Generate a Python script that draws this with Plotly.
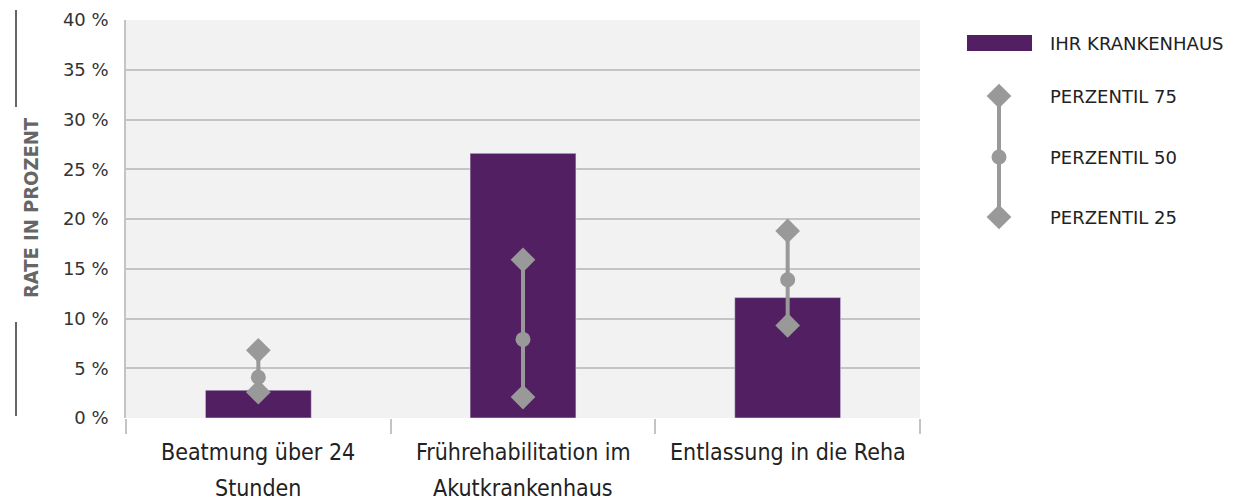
import plotly.graph_objects as go

categories = ["Beatmung über 24\nStunden", "Frührehabilitation im\nAkutkrankenhaus", "Entlassung in die Reha"]
hospital = [2.8, 26.6, 12.1]
p25 = [2.6, 2.1, 9.3]
p50 = [4.1, 7.9, 13.9]
p75 = [6.8, 15.9, 18.8]
y_ticks = [0, 5, 10, 15, 20, 25, 30, 35, 40]
legend_labels = ["IHR KRANKENHAUS", "PERZENTIL 75", "PERZENTIL 50", "PERZENTIL 25"]

PURPLE = "#521f63"
GRAY = "#999999"
GRID = "#c4c4c4"

W, H = 1237, 499
ML, MR, MT, MB = 126, 0, 20, 81
PW = W - ML - MR
PH = H - MT - MB
x_dom_end = (920 - ML) / PW


def px(xpix):
    return (xpix - ML) / PW


def py(ypix):
    return (H - MB - ypix) / PH


xs = list(range(len(categories)))
pct_marker = dict(color=GRAY, symbol=["diamond", "circle", "diamond"], size=[19, 15, 19],
                  opacity=1, line=dict(width=0))

fig = go.Figure()
fig.add_shape(type="rect", xref="x", yref="y", x0=-0.5, x1=2.5, y0=0, y1=40,
              fillcolor="#f2f2f2", line_width=0, layer="below")
fig.add_trace(go.Bar(x=xs, y=hospital, marker_color=PURPLE, width=0.4,
                     showlegend=False, hoverinfo="skip"))
for i in xs:
    fig.add_trace(go.Scatter(
        x=[i, i, i], y=[p25[i], p50[i], p75[i]], mode="lines+markers",
        line=dict(color=GRAY, width=4), marker=pct_marker,
        showlegend=False, hoverinfo="skip"))

# legend drawn on an overlay axis whose data units equal pixels
fig.add_trace(go.Scatter(x=[999, 999, 999], y=[96, 157, 217], mode="lines+markers",
                         line=dict(color=GRAY, width=4), marker=pct_marker,
                         xaxis="x2", yaxis="y2", showlegend=False, hoverinfo="skip"))
fig.add_shape(type="rect", xref="x2", yref="y2", x0=967, x1=1032, y0=35, y1=51,
              fillcolor=PURPLE, line_width=0)
for lab, yy in zip(legend_labels, [43, 96, 157, 217]):
    fig.add_annotation(x=1048, y=yy, xref="x2", yref="y2", text=lab, showarrow=False,
                       xanchor="left", yanchor="middle",
                       font=dict(family="DejaVu Sans", size=18, color="#222222"))

# x category labels (two lines, wide spacing)
for i, cat in enumerate(categories):
    for j, line in enumerate(cat.split("\n")):
        fig.add_annotation(x=i, y=0, xref="x", yref="paper", text=line, showarrow=False,
                           xanchor="center", yanchor="middle", yshift=-34 - 36 * j,
                           font=dict(family="DejaVu Sans Condensed", size=23, color="#222222"))

# y-axis title with decorative lines
fig.add_annotation(x=px(17), y=py(208), xref="paper", yref="paper",
                   text="<b>RATE IN PROZENT</b>", showarrow=False, textangle=-90,
                   font=dict(family="DejaVu Sans Condensed", size=20, color="#666666"))
fig.add_shape(type="line", xref="paper", yref="paper", x0=px(16), x1=px(16),
              y0=py(10), y1=py(107), line=dict(color="#666666", width=2))
fig.add_shape(type="line", xref="paper", yref="paper", x0=px(16), x1=px(16),
              y0=py(322), y1=py(416), line=dict(color="#666666", width=2))

fig.update_layout(
    width=W, height=H,
    margin=dict(l=ML, r=MR, t=MT, b=MB, autoexpand=False),
    paper_bgcolor="white", plot_bgcolor="rgba(0,0,0,0)",
    xaxis=dict(domain=[0, x_dom_end], range=[-0.5, 2.5], tickvals=[-0.5, 0.5, 1.5, 2.5],
               showticklabels=False, ticks="outside", ticklen=15, tickcolor=GRID, tickwidth=1.5,
               showgrid=False, zeroline=False, showline=False, automargin=False),
    yaxis=dict(range=[0, 40], tickvals=y_ticks, ticktext=[f"{v} %" for v in y_ticks],
               showgrid=True, gridcolor=GRID, gridwidth=1.5, zeroline=False,
               showline=True, linecolor=GRID, linewidth=1.5, automargin=False,
               ticks="outside", ticklen=12, tickcolor="rgba(0,0,0,0)",
               tickfont=dict(family="DejaVu Sans", size=18, color="#333333")),
    xaxis2=dict(domain=[0, 1], range=[ML, W], visible=False, fixedrange=True, automargin=False),
    yaxis2=dict(domain=[0, 1], range=[H - MB, MT], visible=False, anchor="x2",
                fixedrange=True, automargin=False),
)
fig.write_html("out.html", config={"displayModeBar": False},
               post_script="document.body.style.margin='0';document.body.style.overflow='hidden';")
